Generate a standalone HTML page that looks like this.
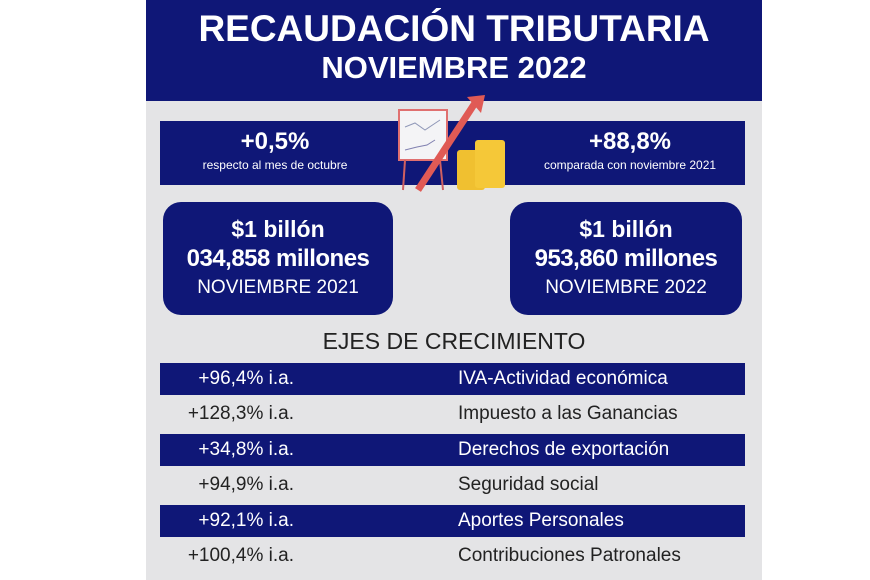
<!DOCTYPE html>
<html><head><meta charset="utf-8"><style>
*{margin:0;padding:0;box-sizing:border-box}
body{width:870px;height:580px;background:#fff;position:relative;overflow:hidden;font-family:"Liberation Sans",sans-serif}
.panel{position:absolute;left:146px;top:0;width:616px;height:580px;background:#e4e4e6}
.hdr{position:absolute;left:146px;top:0;width:616px;height:101px;background:#0f1777;color:#fff;text-align:center}
.a{position:absolute;color:#fff;text-align:center;white-space:nowrap}
.nav{background:#0f1777}
.row{position:absolute;left:160px;width:585px;height:32px}
.l{position:absolute;right:576px;font-size:19px;white-space:nowrap}
.r{position:absolute;left:458px;font-size:19px;white-space:nowrap}
</style></head><body>
<div class="panel"></div>
<div class="hdr">
<div style="position:absolute;left:0;width:616px;top:8px;font-size:37px;font-weight:bold">RECAUDACIÓN TRIBUTARIA</div>
<div style="position:absolute;left:0;width:616px;top:50px;font-size:31px;font-weight:bold">NOVIEMBRE 2022</div>
</div>
<div class="nav" style="position:absolute;left:160px;top:121px;width:585px;height:64px"></div>
<div class="a" style="left:160px;width:230px;top:128px;font-size:24px;font-weight:bold">+0,5%</div>
<div class="a" style="left:160px;width:230px;top:158px;font-size:12px">respecto al mes de octubre</div>
<div class="a" style="left:515px;width:230px;top:128px;font-size:24px;font-weight:bold">+88,8%</div>
<div class="a" style="left:515px;width:230px;top:158px;font-size:12px">comparada con noviembre 2021</div>
<!-- icon -->
<svg style="position:absolute;left:395px;top:95px" width="120" height="100">
<rect x="4" y="15" width="48" height="50" fill="#f4f4f6" stroke="#e07070" stroke-width="2"/>
<polyline points="10,32 20,28 30,35 45,25" fill="none" stroke="#9098b8"/>
<polyline points="10,55 22,52 32,50 40,45" fill="none" stroke="#8080b0"/>
<line x1="10" y1="65" x2="8" y2="95" stroke="#d06060" stroke-width="2"/>
<line x1="45" y1="65" x2="48" y2="95" stroke="#d06060" stroke-width="2"/>
<line x1="23" y1="95" x2="80" y2="8" stroke="#e05a55" stroke-width="7"/>
<polygon points="72,2 90,0 86,18" fill="#e05a55"/>
<rect x="62" y="55" width="28" height="40" rx="3" fill="#f0c030"/>
<rect x="80" y="45" width="30" height="48" rx="3" fill="#f5c838"/>
</svg>
<div class="nav" style="position:absolute;left:163px;top:202px;width:230px;height:113px;border-radius:18px"></div>
<div class="nav" style="position:absolute;left:510px;top:202px;width:232px;height:113px;border-radius:18px"></div>
<div class="a" style="left:163px;width:230px;top:216px;font-size:23px;font-weight:bold">$1 billón</div>
<div class="a" style="left:163px;width:230px;top:245px;font-size:24px;font-weight:bold;letter-spacing:-0.5px">034,858 millones</div>
<div class="a" style="left:163px;width:230px;top:277px;font-size:19px">NOVIEMBRE 2021</div>
<div class="a" style="left:510px;width:232px;top:216px;font-size:23px;font-weight:bold">$1 billón</div>
<div class="a" style="left:510px;width:232px;top:245px;font-size:24px;font-weight:bold;letter-spacing:-0.5px">953,860 millones</div>
<div class="a" style="left:510px;width:232px;top:277px;font-size:19px">NOVIEMBRE 2022</div>
<div style="position:absolute;left:146px;width:616px;top:328px;text-align:center;font-size:23px;color:#222">EJES DE CRECIMIENTO</div>
<div class="row nav" style="top:363px"></div>
<div class="row nav" style="top:434px"></div>
<div class="row nav" style="top:505px"></div>
<div style="position:absolute;left:0;top:0;width:870px">
<div class="l" style="top:368px;color:#fff">+96,4% i.a.</div><div class="r" style="top:368px;color:#fff">IVA-Actividad económica</div>
<div class="l" style="top:403px;color:#222">+128,3% i.a.</div><div class="r" style="top:403px;color:#222">Impuesto a las Ganancias</div>
<div class="l" style="top:439px;color:#fff">+34,8% i.a.</div><div class="r" style="top:439px;color:#fff">Derechos de exportación</div>
<div class="l" style="top:474px;color:#222">+94,9% i.a.</div><div class="r" style="top:474px;color:#222">Seguridad social</div>
<div class="l" style="top:510px;color:#fff">+92,1% i.a.</div><div class="r" style="top:510px;color:#fff">Aportes Personales</div>
<div class="l" style="top:545px;color:#222">+100,4% i.a.</div><div class="r" style="top:545px;color:#222">Contribuciones Patronales</div>
</div>
</body></html>
